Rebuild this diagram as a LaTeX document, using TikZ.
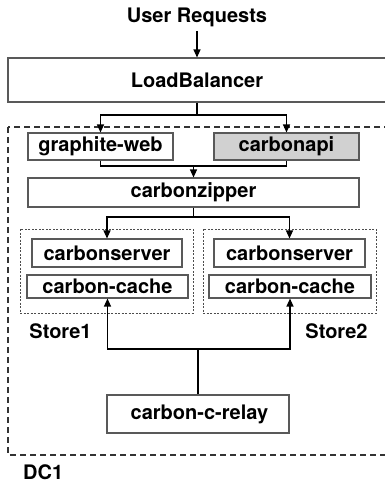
\documentclass[tikz,border=0pt]{standalone}
\usepackage{fontspec}
\setmainfont{TeX Gyre Heros}
\usetikzlibrary{arrows.meta}
\begin{document}
\begin{tikzpicture}[x=1pt,y=-1pt,
  box/.style={draw=black!65,line width=1.1pt,rectangle,inner sep=0pt,font=\fontsize{20}{23}\selectfont\bfseries},
  lbl/.style={inner sep=0pt,font=\fontsize{20}{23}\selectfont\bfseries},
  conn/.style={line width=1.2pt,black},
  arr/.style={conn,-{Triangle[length=8pt,width=7pt]}},
  dcbox/.style={draw=black!80,line width=1.1pt,dash pattern=on 6pt off 4pt},
  storebox/.style={draw=black!70,line width=0.8pt,dash pattern=on 2pt off 1.5pt}
]
\useasboundingbox (0,0) rectangle (385,492);
% containers
\draw[dcbox] (8,127) rectangle (386,455);
\draw[storebox] (20,229) rectangle (193,313);
\draw[storebox] (203,229) rectangle (376,313);
% nodes
\node[lbl] (ur) at (197,17) {User Requests};
\node[box,minimum width=378pt,minimum height=44pt] (lb) at (197,80) {LoadBalancer};
\node[box,minimum width=145pt,minimum height=27pt] (gw) at (100.5,146.5) {graphite-web};
\node[box,fill=black!18,minimum width=145pt,minimum height=27pt] (capi) at (286.5,146.5) {carbonapi};
\node[box,minimum width=331pt,minimum height=29pt] (cz) at (193.5,192.5) {carbonzipper};
\node[box,minimum width=150pt,minimum height=28pt] (cs1) at (107,253) {carbonserver};
\node[box,minimum width=161pt,minimum height=23pt] (cc1) at (107.5,286.5) {carbon-cache};
\node[box,minimum width=151pt,minimum height=28pt] (cs2) at (289.5,253) {carbonserver};
\node[box,minimum width=162pt,minimum height=23pt] (cc2) at (290,286.5) {carbon-cache};
\node[box,minimum width=182pt,minimum height=38pt] (relay) at (198,414) {\hspace{3pt}carbon-c-relay};
\node[lbl] (s1) at (60.5,331) {Store1};
\node[lbl] (s2) at (336.5,331) {Store2};
\node[lbl,anchor=west] (dc) at (23,472) {DC1};
% connectors
\coordinate (j0) at (197,31);
\draw[arr] (j0) -- (lb.north);
\coordinate (j1) at (197,115);
\draw[conn] (lb.south) -- (j1);
\draw[arr] (j1) -| (gw.north);
\draw[arr] (j1) -| (capi.north);
\coordinate (j2) at (193.5,166);
\draw[conn] (gw.south) |- (j2) -| (capi.south);
\draw[arr] (j2) -- (cz.north);
\coordinate (j3) at (193.5,217);
\draw[conn] (cz.south) -- (j3);
\draw[arr] (j3) -| (cs1.north);
\draw[arr] (j3) -| (cs2.north);
\coordinate (j4) at (198,349);
\draw[conn] (relay.north) -- (j4);
\draw[arr] (j4) -| (cc1.south);
\draw[arr] (j4) -| (cc2.south);
\end{tikzpicture}
\end{document}
